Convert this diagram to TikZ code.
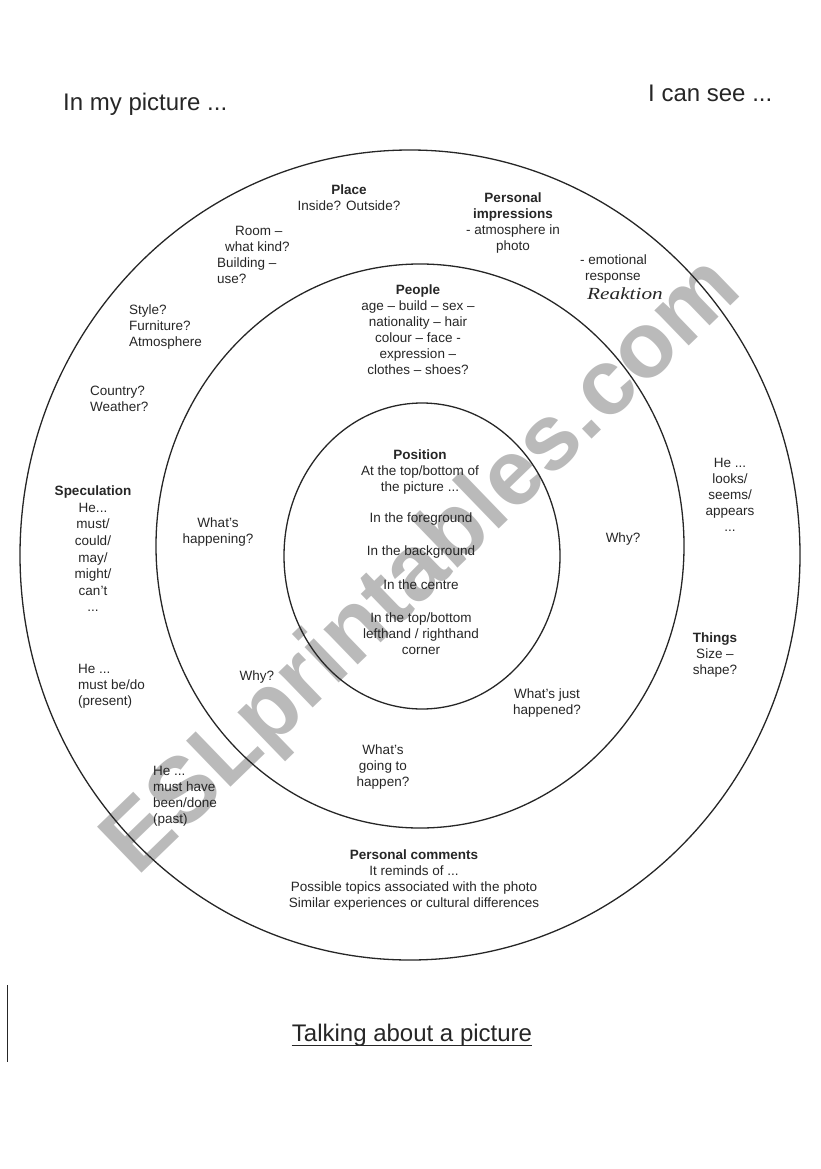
\documentclass[tikz,border=0pt]{standalone}
\usepackage{fontspec}
\setmainfont{Liberation Sans}
\newfontfamily\handfont{Liberation Serif}
\usetikzlibrary{shapes.geometric}
\begin{document}
\begin{tikzpicture}[x=1pt,y=-1pt,
  ring/.style={draw=black!85, line width=1.3pt, ellipse, inner sep=0pt},
  txt/.style={font=\fontsize{13.5}{16}\selectfont, align=center, inner sep=0pt, text=black!85},
  txtl/.style={txt, align=left, anchor=west},
  hd/.style={font=\fontsize{24}{28}\selectfont, inner sep=0pt, text=black!85},
  wm/.style={font=\bfseries\fontsize{93}{95}\selectfont, text=black!27, inner sep=0pt}]
\useasboundingbox (0,0) rectangle (821,1169);
% watermark
\node[wm, rotate=44] (watermark) at (424,568) {ESLprintables.com};
% rings
\node[ring, minimum width=780pt, minimum height=810pt] (outer) at (410,555) {};
\node[ring, minimum width=528pt, minimum height=564pt] (middle) at (420,546) {};
\node[ring, minimum width=276pt, minimum height=306pt] (inner) at (422,556) {};
% headings
\node[hd, anchor=west] (mypic) at (63,104) {In my picture ...};
\node[hd, anchor=west] (isee) at (648,93) {I can see ...};
\node[hd] (title) at (412,1035) {Talking about a picture};
\draw[line width=1pt, black!85] ([yshift=-4pt]title.base west) -- ([yshift=-4pt]title.base east);
\coordinate (edgetop) at (7,985);
\coordinate (edgebot) at (7,1062);
\draw[line width=1pt, black!85] (edgetop) -- (edgebot);
% outer ring texts
\node[txt] (place) at (349,198) {\textbf{Place}\\Inside? Outside?};
\node[txt] (persimp) at (513,223) {\textbf{Personal}\\\textbf{impressions}\\- atmosphere in\\photo};
\node[txtl] (room) at (217,255) {\hspace{18pt}Room –\\\hspace{8pt}what kind?\\Building –\\use?};
\node[txtl] (emo) at (580,269.5) {- emotional\\\hspace{5pt}response};
\node[inner sep=0pt, text=black!85, font=\handfont\itshape\fontsize{17}{18}\selectfont, xscale=1.25] (reak) at (625,294) {Reaktion};
\node[txtl] (style) at (129,327) {Style?\\Furniture?\\Atmosphere};
\node[txtl] (country) at (90,399) {Country?\\Weather?};
\node[txt, font=\fontsize{13.5}{16.6}\selectfont] (spec) at (93,549) {\textbf{Speculation}\\He...\\must/\\could/\\may/\\might/\\can't\\...};
\node[txtl] (present) at (78,686) {He ...\\must be/do\\(present)};
\node[txtl] (past) at (153,796) {He ...\\must have\\been/done\\(past)};
\node[txt] (perscom) at (414,880) {\textbf{Personal comments}\\It reminds of ...\\Possible topics associated with the photo\\Similar experiences or cultural differences};
\node[txt] (things) at (715,655) {\textbf{Things}\\Size –\\shape?};
\node[txt] (looks) at (730,494.5) {He ...\\looks/\\seems/\\appears\\...};
% middle ring texts
\node[txt] (people) at (418,330) {\textbf{People}\\age – build – sex –\\nationality – hair\\colour – face -\\expression –\\clothes – shoes?};
\node[txt] (happening) at (218,532) {What's\\happening?};
\node[txt] (whyL) at (257,677) {Why?};
\node[txt] (whyR) at (623,539) {Why?};
\node[txt] (justhap) at (547,703) {What's just\\happened?};
\node[txt] (going) at (383,767) {What's\\going to\\happen?};
% inner circle texts
\node[txt] (position) at (420,472) {\textbf{Position}\\At the top/bottom of\\the picture ...};
\node[txt] (fg) at (421,519) {In the foreground};
\node[txt] (bg) at (421,552) {In the background};
\node[txt] (centre) at (421,585) {In the centre};
\node[txt] (corner) at (421,634) {In the top/bottom\\lefthand / righthand\\corner};
\end{tikzpicture}
\end{document}
